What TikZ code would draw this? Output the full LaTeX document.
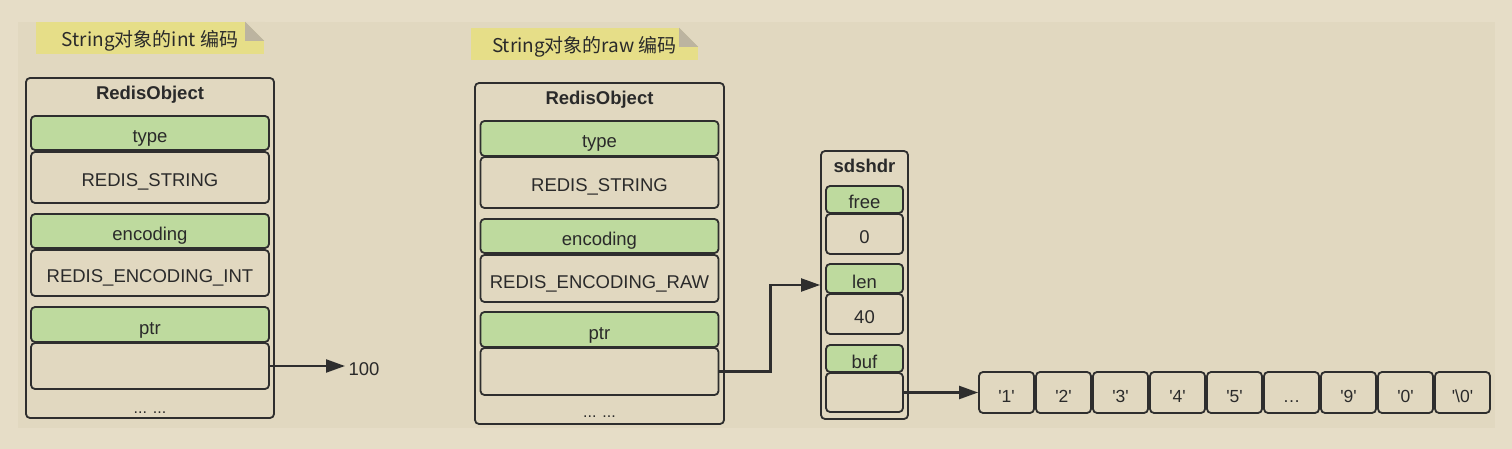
\documentclass[tikz,border=0pt]{standalone}
\usepackage{fontspec}
\setmainfont{Liberation Sans}
\newfontfamily\cjk{Noto Sans CJK SC}
\usetikzlibrary{arrows.meta,positioning}
\definecolor{outerbg}{HTML}{E6DDC7}
\definecolor{innerbg}{HTML}{E1D8C0}
\definecolor{fieldgreen}{HTML}{BEDA9E}
\definecolor{noteyellow}{HTML}{E6DE88}
\definecolor{foldgray}{HTML}{BCB4A0}
\definecolor{boxline}{HTML}{2E2E2E}
\definecolor{ink}{HTML}{2A2A2A}
\newcommand{\chr}[1]{\textquotesingle#1\textquotesingle}

\begin{document}
\begin{tikzpicture}[
    x=1pt, y=-1pt,
    font=\fontsize{18.5}{20}\selectfont, text=ink,
    obj/.style={draw=boxline, line width=1.8pt, rounded corners=4pt, minimum width=#1},
    slot/.style={draw=boxline, line width=1.8pt, rounded corners=4pt, inner sep=0pt, minimum width=238pt, minimum height=#1, text height=19pt, text depth=0pt},
    field/.style={slot=#1, fill=fieldgreen},
    sdsslot/.style={slot=#1, minimum width=77pt},
    sdsfield/.style={sdsslot=#1, fill=fieldgreen},
    cell/.style={draw=boxline, line width=1.8pt, rounded corners=4pt, minimum width=55pt, minimum height=41pt, inner sep=0pt, text height=19pt, text depth=0pt, font=\fontsize{17.5}{18}\selectfont},
    title/.style={anchor=base, font=\bfseries\fontsize{18.5}{20}\selectfont},
    dots/.style={anchor=base, font=\fontsize{16}{18}\selectfont},
    note/.style={fill=noteyellow, minimum width=#1, minimum height=32pt, inner sep=0pt, text height=18pt, text depth=0pt, font=\cjk\fontsize{19}{22}\selectfont},
    arrow/.style={-{Triangle[length=19pt,width=13pt]}, line width=2.2pt, draw=boxline}
]
% Background
\useasboundingbox (0,0) rectangle (1512,449);
\fill[outerbg] (0,0) rectangle (1512,449);
\fill[innerbg] (18,22) rectangle (1495,428);

% int encoding
\node[note=228pt] (notel) at (150,38) {String对象的int 编码};
\fill[innerbg] (notel.north east) -- ++(-19,0) -- ++(19,19) -- cycle;
\fill[foldgray] (notel.north east) ++(-19,0) -- ++(0,19) -- ++(19,0) -- cycle;

\node[obj=248pt, minimum height=340pt] (objl) at (150,248) {};
\node[title] (titlel) at (150,100) {RedisObject};
\node[field=34pt] (typel) at (150,133) {type};
\node[slot=51pt] (typevl) at (150,177.5) {REDIS\_STRING};
\node[field=34pt] (encl) at (150,231) {encoding};
\node[slot=46pt] (encvl) at (150,273) {REDIS\_ENCODING\_INT};
\node[field=35pt] (ptrl) at (150,324.5) {ptr};
\node[slot=46pt] (ptrvl) at (150,366) {};
\node[dots] (dotsl) at (150,413) {... ...};

\node[anchor=base west] (num) at (345,375) {100};
\draw[arrow] (ptrvl.east) -- (ptrvl.east -| num.west);

% raw encoding
\node[note=227pt] (noter) at (584.5,44) {String对象的raw 编码};
\fill[innerbg] (noter.north east) -- ++(-19,0) -- ++(19,19) -- cycle;
\fill[foldgray] (noter.north east) ++(-19,0) -- ++(0,19) -- ++(19,0) -- cycle;

\node[obj=249pt, minimum height=341pt] (objr) at (599.5,253.5) {};
\node[title] (titler) at (599.5,105) {RedisObject};
\node[field=35pt] (typer) at (599.5,138.5) {type};
\node[slot=51pt] (typevr) at (599.5,182.5) {REDIS\_STRING};
\node[field=34pt] (encr) at (599.5,236) {encoding};
\node[slot=47pt] (encvr) at (599.5,278.5) {REDIS\_ENCODING\_RAW};
\node[field=35pt] (ptrr) at (599.5,329.5) {ptr};
\node[slot=47pt] (ptrvr) at (599.5,371.5) {};
\node[dots] (dotsr) at (599.5,417) {... ...};

% sdshdr
\node[obj=87pt, minimum height=268pt] (sds) at (864.5,285) {};
\node[title] (sdstitle) at (864.5,173) {sdshdr};
\node[sdsfield=27pt] (free) at (864.5,199.5) {free};
\node[sdsslot=40pt] (freev) at (864.5,234) {0};
\node[sdsfield=29pt] (len) at (864.5,278.5) {len};
\node[sdsslot=40pt] (lenv) at (864.5,314) {40};
\node[sdsfield=27pt] (buf) at (864.5,358.5) {buf};
\node[sdsslot=39pt] (bufv) at (864.5,392.5) {};

\draw[arrow] (ptrvr.east) -- ++(51,0) |- (sds.west);

% buf contents
\foreach \i/\ch in {1/\chr1, 2/\chr2, 3/\chr3, 4/\chr4, 5/\chr5, 6/\ldots, 7/\chr9, 8/\chr0, 9/{\chr{\textbackslash 0}}}
    \node[cell] (c\i) at (949.5+57*\i,392.5) {\ch};

\draw[arrow] (bufv.east) -- (c1.west);

\end{tikzpicture}
\end{document}
